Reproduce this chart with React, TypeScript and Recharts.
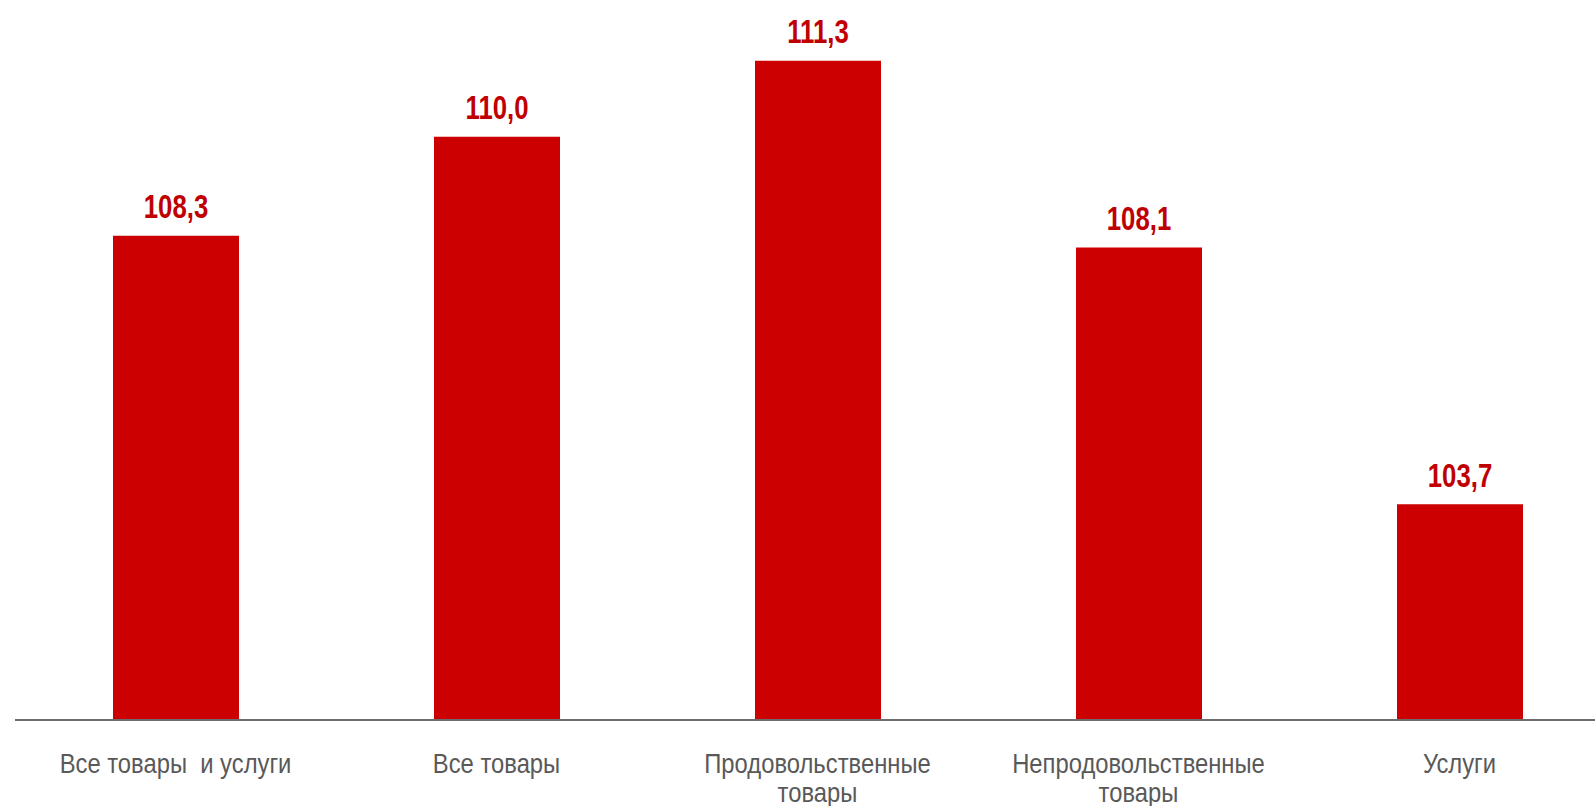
import React from 'react';
import { BarChart, Bar, XAxis, YAxis, LabelList } from 'recharts';

const categories = ['Все товары и услуги', 'Все товары', 'Продовольственные товары', 'Непродовольственные товары', 'Услуги'];
const tickLines = [['Все товары  и услуги'], ['Все товары'], ['Продовольственные', 'товары'], ['Непродовольственные', 'товары'], ['Услуги']];
const values = [108.3, 110.0, 111.3, 108.1, 103.7];

const data = categories.map((name, i) => ({ name, value: values[i] }));

const FONT = '"Liberation Sans", Arial, sans-serif';

// no narrow font available, so squeeze text horizontally
const CategoryTick = (props: any) => {
  const { x, y, index } = props;
  const lines = tickLines[index] || [];
  return (
    <g transform={`translate(${x},${y}) scale(0.85,1)`}>
      <text x={0} y={0} textAnchor="middle" fill="#595959" fontFamily={FONT} fontSize={28}>
        {lines.map((line: string, i: number) => (
          <tspan key={i} x={0} dy={i === 0 ? 45 : 29} style={{ whiteSpace: 'pre' }}>{line}</tspan>
        ))}
      </text>
    </g>
  );
};

const ValueLabel = (props: any) => {
  const { x, y, width, value } = props;
  return (
    <g transform={`translate(${x + width / 2},${y - 17.5}) scale(0.78,1)`}>
      <text x={0} y={0} textAnchor="middle" fill="#C00000" fontFamily={FONT} fontWeight="bold" fontSize={33}>
        {Number(value).toFixed(1).replace('.', ',')}
      </text>
    </g>
  );
};

export default function App() {
  return (
    <div style={{ position: 'absolute', left: 0, top: 0, width: 1595, height: 806, overflow: 'hidden', background: '#fff' }}>
      <BarChart width={1620} height={806} data={data} margin={{ top: 20, right: 0, bottom: 0, left: 15 }} barSize={126}>
        <XAxis dataKey="name" height={86} axisLine={{ stroke: '#6d6d6d', strokeWidth: 2 }} tickLine={false} tick={<CategoryTick />} interval={0} />
        <YAxis hide domain={[100, 112]} allowDataOverflow />
        <Bar dataKey="value" fill="#CC0000" isAnimationActive={false}>
          <LabelList dataKey="value" content={<ValueLabel />} />
        </Bar>
      </BarChart>
    </div>
  );
}
